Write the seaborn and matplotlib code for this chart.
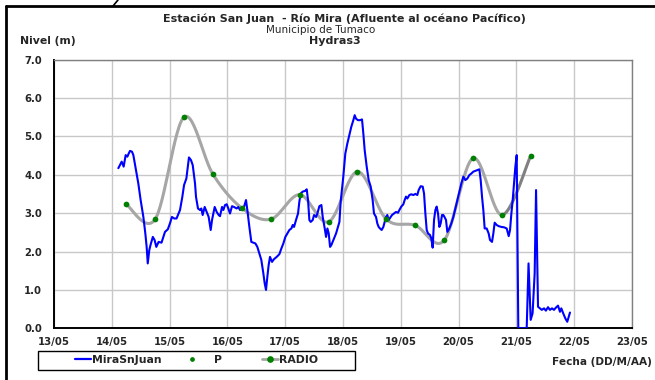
import numpy as np
import matplotlib
matplotlib.use("Agg")
import matplotlib.pyplot as plt
import seaborn as sns
from matplotlib.lines import Line2D
from matplotlib.patches import Rectangle


## DATOS (día del mes de mayo, con fracción de día) ##

dia_mira = [14.113, 14.171, 14.205, 14.240, 14.269, 14.292, 14.315, 14.349, 14.373, 14.419,
            14.459, 14.499, 14.546, 14.580, 14.603, 14.622, 14.649, 14.67, 14.71, 14.74,
            14.77, 14.81, 14.86, 14.92, 14.97, 15.01, 15.04, 15.08, 15.12, 15.18,
            15.22, 15.25, 15.29, 15.335, 15.37, 15.40, 15.44, 15.457, 15.491, 15.526,
            15.549, 15.572, 15.607, 15.641, 15.676, 15.711, 15.734, 15.757, 15.780, 15.815,
            15.849, 15.872, 15.907, 15.930, 15.959, 15.988, 16.016, 16.045, 16.080, 16.114,
            16.160, 16.189, 16.218, 16.247, 16.287, 16.322, 16.345, 16.380, 16.414, 16.449,
            16.484, 16.518, 16.553, 16.587, 16.622, 16.645, 16.668, 16.691, 16.714, 16.737,
            16.772, 16.806, 16.853, 16.899, 16.934, 16.968, 17.003, 17.037, 17.072, 17.107,
            17.130, 17.153, 17.187, 17.222, 17.245, 17.268, 17.303, 17.349, 17.372, 17.395,
            17.418, 17.441, 17.476, 17.499, 17.534, 17.557, 17.591, 17.626, 17.649, 17.684,
            17.707, 17.730, 17.753, 17.776, 17.799, 17.834, 17.880, 17.914, 17.938, 17.96,
            18.005, 18.04, 18.075, 18.11, 18.144, 18.179, 18.202, 18.225, 18.259, 18.294,
            18.329, 18.352, 18.375, 18.410, 18.444, 18.479, 18.513, 18.536, 18.571, 18.594,
            18.617, 18.640, 18.669, 18.698, 18.721, 18.744, 18.767, 18.790, 18.825, 18.848,
            18.882, 18.917, 18.952, 18.975, 19.009, 19.044, 19.067, 19.090, 19.113, 19.148,
            19.182, 19.217, 19.252, 19.286, 19.309, 19.344, 19.379, 19.402, 19.425, 19.448,
            19.471, 19.505, 19.528, 19.551, 19.575, 19.598, 19.621, 19.644, 19.667, 19.690,
            19.713, 19.736, 19.759, 19.782, 19.805, 19.840, 19.874, 19.909, 19.944, 19.978,
            20.013, 20.047, 20.082, 20.117, 20.151, 20.186, 20.220, 20.255, 20.290, 20.324,
            20.359, 20.382, 20.405, 20.428, 20.451, 20.486, 20.520, 20.543, 20.578, 20.601,
            20.624, 20.659, 20.694, 20.740, 20.786, 20.832, 20.867, 20.890, 20.913, 20.936,
            20.959, 20.982, 21.005, 21.033, 21.178, 21.21, 21.247, 21.28, 21.316, 21.34,
            21.374, 21.408, 21.44, 21.478, 21.51, 21.547, 21.58, 21.616, 21.65, 21.685,
            21.72, 21.754, 21.777, 21.81, 21.846, 21.88, 21.927]

nivel_mira = [4.17, 4.34, 4.21, 4.51, 4.47, 4.55, 4.62, 4.60, 4.51, 4.12,
              3.77, 3.34, 2.90, 2.47, 2.12, 1.69, 2.04, 2.17, 2.38, 2.30,
              2.12, 2.25, 2.23, 2.51, 2.58, 2.75, 2.90, 2.86, 2.86, 3.08,
              3.42, 3.73, 3.90, 4.45, 4.38, 4.25, 3.77, 3.42, 3.12, 3.08,
              3.12, 2.95, 3.16, 3.03, 2.90, 2.56, 2.82, 2.99, 3.16, 3.03,
              2.95, 2.92, 3.16, 3.08, 3.21, 3.23, 3.12, 2.99, 3.18, 3.16,
              3.12, 3.16, 3.08, 3.12, 3.16, 3.34, 3.08, 2.64, 2.25, 2.23,
              2.21, 2.12, 1.95, 1.78, 1.43, 1.17, 1.00, 1.34, 1.65, 1.86,
              1.73, 1.80, 1.86, 1.93, 2.08, 2.21, 2.38, 2.47, 2.56, 2.60,
              2.69, 2.64, 2.82, 2.99, 3.30, 3.51, 3.56, 3.58, 3.62, 3.34,
              2.82, 2.77, 2.82, 2.95, 2.90, 2.99, 3.18, 3.21, 2.90, 2.60,
              2.38, 2.60, 2.47, 2.12, 2.17, 2.30, 2.47, 2.64, 2.77, 3.30,
              3.95, 4.55, 4.81, 5.03, 5.25, 5.42, 5.55, 5.46, 5.42, 5.42,
              5.44, 5.07, 4.64, 4.21, 3.86, 3.69, 3.34, 2.99, 2.90, 2.73,
              2.64, 2.60, 2.56, 2.64, 2.77, 2.90, 2.95, 2.82, 2.90, 2.95,
              2.99, 3.03, 3.01, 3.08, 3.17, 3.23, 3.34, 3.43, 3.38, 3.47,
              3.49, 3.47, 3.50, 3.47, 3.60, 3.70, 3.69, 3.51, 2.99, 2.56,
              2.47, 2.43, 2.34, 2.10, 2.82, 3.08, 3.17, 2.99, 2.64, 2.73,
              2.95, 2.95, 2.89, 2.82, 2.51, 2.60, 2.73, 2.90, 3.12, 3.34,
              3.56, 3.77, 3.95, 3.86, 3.90, 3.99, 4.03, 4.08, 4.10, 4.12,
              4.14, 3.86, 3.43, 3.08, 2.60, 2.60, 2.47, 2.30, 2.25, 2.47,
              2.75, 2.69, 2.66, 2.64, 2.63, 2.60, 2.40, 2.56, 2.99, 3.34,
              3.77, 4.21, 4.51, 0.00, 0.00, 1.69, 0.22, 0.39, 1.43, 3.60,
              0.56, 0.52, 0.48, 0.52, 0.46, 0.55, 0.48, 0.52, 0.48, 0.54,
              0.59, 0.43, 0.52, 0.39, 0.26, 0.17, 0.41]

dia_p = [14.25, 14.75, 15.25, 15.75, 16.25, 16.75, 17.25, 17.75,
         18.25, 18.75, 19.25, 19.75, 20.25, 20.75, 21.25]
nivel_p = [3.23, 2.84, 5.50, 4.01, 3.13, 2.84, 3.48, 2.77,
           4.08, 2.84, 2.68, 2.29, 4.43, 2.95, 4.50]

dias_ticks = list(range(13, 24))
etiquetas_x = [f"{d}/05" for d in dias_ticks]
niveles_ticks = [0, 1, 2, 3, 4, 5, 6, 7]

AZUL = '#0000FF'
VERDE = '#008000'
GRIS = '#A6A6A6'
GRIS_OSC = '#808080'


## FUNCIÓN PARA SUAVIZAR COMO EXCEL (Catmull-Rom) ##

def suavizar(x, y, n=30):
    pts = np.column_stack([x, y])
    pts = np.vstack([pts[0], pts, pts[-1]])
    curva = []
    for i in range(1, len(pts) - 2):
        p0, p1, p2, p3 = pts[i - 1], pts[i], pts[i + 1], pts[i + 2]
        t = np.linspace(0, 1, n)[:, None]
        seg = 0.5 * ((2 * p1) + (-p0 + p2) * t
                     + (2 * p0 - 5 * p1 + 4 * p2 - p3) * t ** 2
                     + (-p0 + 3 * p1 - 3 * p2 + p3) * t ** 3)
        curva.append(seg)
    curva = np.vstack(curva)
    return curva[:, 0], curva[:, 1]


def fx(px):
    return px / 655


def fy(py):
    return 1 - py / 380


sns.set_style("white")
plt.rcParams['font.family'] = ['DejaVu Sans']

fig = plt.figure(figsize=(6.55, 3.8), dpi=100)
ax = fig.add_axes([fx(54), fy(328.3), fx(632 - 54), (328.3 - 59.5) / 380])

# linea RADIO suavizada
xs, ys = suavizar(dia_p, nivel_p)
corte = xs <= dia_p[-2]
ax.plot(xs[corte], ys[corte], color=GRIS, lw=2.2, zorder=2, solid_capstyle='round')
ax.plot(xs[~corte], ys[~corte], color=GRIS_OSC, lw=2.2, zorder=2, solid_capstyle='round')

# MiraSnJuan
sns.lineplot(x=dia_mira, y=nivel_mira, ax=ax, color=AZUL, lw=1.5, zorder=3,
             estimator=None, sort=False)

# puntos P
sns.scatterplot(x=dia_p, y=nivel_p, ax=ax, color=VERDE, s=17, linewidth=0, zorder=4)

ax.set_xlim(13, 23)
ax.set_ylim(0, 7)
ax.set_xticks(dias_ticks)
ax.set_xticklabels(etiquetas_x, fontsize=7.3, fontweight='bold')
ax.set_yticks(niveles_ticks)
ax.set_yticklabels([f"{v:.1f}" for v in niveles_ticks], fontsize=7.3, fontweight='bold')
ax.grid(True, color='#C8C8C8', lw=1)
ax.set_axisbelow(True)
ax.tick_params(axis='y', direction='out', length=5, width=1, color='black', pad=3.5)
ax.tick_params(axis='x', direction='out', length=3, width=1, color='black', pad=3)

for lado in ['top', 'right']:
    ax.spines[lado].set_color(GRIS_OSC)
    ax.spines[lado].set_linewidth(1)
for lado in ['left', 'bottom']:
    ax.spines[lado].set_color('black')
    ax.spines[lado].set_linewidth(1.4)

# titulos
fig.text(fx(344), fy(18.5), "Estación San Juan  - Río Mira (Afluente al océano Pacífico)",
         ha='center', va='center', fontsize=8, fontweight='bold')
fig.text(fx(321), fy(30), "Municipio de Tumaco", ha='center', va='center', fontsize=7.5)
fig.text(fx(335), fy(40.5), "Hydras3", ha='center', va='center', fontsize=8, fontweight='bold')
fig.text(fx(20), fy(41.5), "Nivel (m)", ha='left', va='center', fontsize=7.8, fontweight='bold')
fig.text(fx(652), fy(362), "Fecha (DD/M/AA)", ha='right', va='center', fontsize=7.6,
         fontweight='bold')

# leyenda (una entrada por serie, dentro de un recuadro)
entradas = [
    (Line2D([], [], color=AZUL, lw=1.6), "MiraSnJuan", 75, 0.1),
    (Line2D([], [], color=VERDE, marker='o', ms=2.4, lw=0), "P", 184, 1.3),
    (Line2D([], [], color=GRIS, lw=2, marker='o', ms=3.8,
            markerfacecolor=VERDE, markeredgecolor=VERDE), "RADIO", 262, 0.1),
]
for handle, texto, x0, pad in entradas:
    fig.legend([handle], [texto], loc='center left', bbox_to_anchor=(fx(x0), fy(360)),
               prop={'size': 7.8, 'weight': 'bold'}, frameon=False,
               handlelength=1.5, handletextpad=pad, borderpad=0, borderaxespad=0)
fig.add_artist(Rectangle((fx(38), fy(369.5)), fx(355 - 38), (369.5 - 351) / 380,
                         transform=fig.transFigure, fill=False, edgecolor='black', lw=1))

# marco del grafico
fig.add_artist(Line2D([fx(6), fx(6)], [0, fy(6)], color='black', lw=2,
                      transform=fig.transFigure))
fig.add_artist(Line2D([fx(6), 1], [fy(6), fy(6)], color='black', lw=2,
                      transform=fig.transFigure))
fig.add_artist(Line2D([fx(113), fx(118)], [fy(6), 1], color='black', lw=1.2,
                      transform=fig.transFigure))

fig.savefig("out.png", dpi=100)
